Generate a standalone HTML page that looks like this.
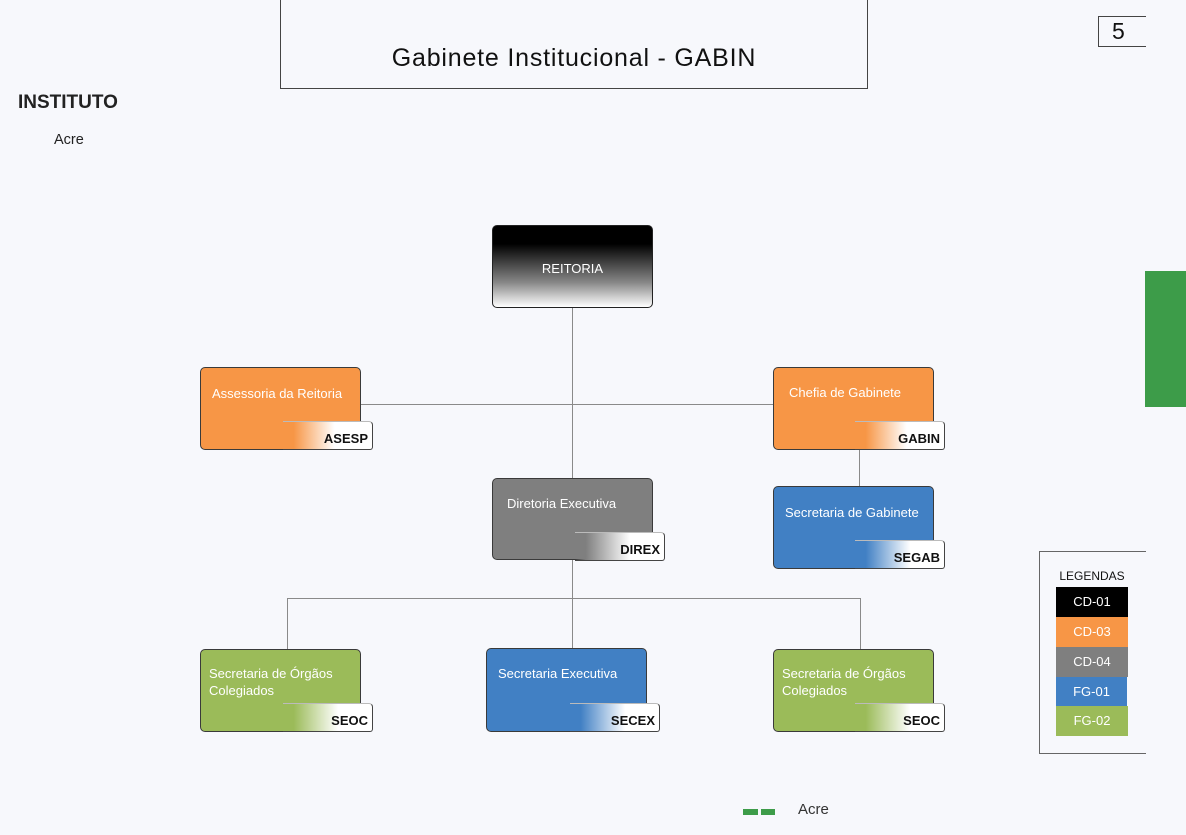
<!DOCTYPE html>
<html><head><meta charset="utf-8"><style>
*{margin:0;padding:0;box-sizing:border-box}
body{width:1186px;height:835px;background:#f7f8fc;position:relative;overflow:hidden;font-family:"Liberation Sans",sans-serif}
.a{position:absolute}
.node{position:absolute;width:161px;height:83px;border:1px solid #3a3a3a;border-radius:5px;color:#fff;font-size:13px;line-height:17px}
.node .t{position:absolute;left:11px;top:17px;white-space:nowrap}
.tag{position:absolute;width:90px;height:29px;border-top:1px solid #bbb;border-right:1px solid #444;border-bottom:1px solid #444;border-radius:0 4px 3px 0;font-size:13px;font-weight:bold;color:#111;text-align:right;padding-right:4px;line-height:34px}
.h{position:absolute;height:1px;background:#8a8a8a}
.v{position:absolute;width:1px;background:#8a8a8a}
.lg{position:absolute;left:1056px;width:72px;height:30px;color:#fff;font-size:13px;text-align:center;line-height:30px}
</style></head><body>
<!-- title box -->
<div class="a" style="left:280px;top:-2px;width:588px;height:91px;border:1px solid #444;border-top:none"></div>
<div class="a" style="left:280px;top:44px;width:588px;text-align:center;font-size:25px;color:#111;letter-spacing:0.8px">Gabinete Institucional - GABIN</div>
<!-- page number -->
<div class="a" style="left:1098px;top:16px;width:48px;height:31px;border:1px solid #444;border-right:none"></div>
<div class="a" style="left:1112px;top:18px;font-size:23px;color:#111">5</div>
<div class="a" style="left:18px;top:92px;font-size:19px;font-weight:bold;color:#222">INSTITUTO</div>
<div class="a" style="left:54px;top:132px;font-size:14.5px;color:#222">Acre</div>
<!-- green side -->
<div class="a" style="left:1145px;top:271px;width:41px;height:136px;background:#3d9c49"></div>

<!-- connectors -->
<div class="v" style="left:572px;top:307px;height:171px"></div>
<div class="h" style="left:360px;top:404px;width:413px"></div>
<div class="v" style="left:859px;top:449px;height:37px"></div>
<div class="v" style="left:572px;top:559px;height:90px"></div>
<div class="h" style="left:287px;top:598px;width:574px"></div>
<div class="v" style="left:287px;top:598px;height:51px"></div>
<div class="v" style="left:860px;top:598px;height:51px"></div>

<!-- REITORIA -->
<div class="node" style="left:492px;top:225px;height:83px;background:linear-gradient(to bottom,#000 0%,#000 22%,#888 70%,#fff 100%);border-color:#222">
<div style="position:absolute;left:0;right:0;top:34px;text-align:center;font-size:13px">REITORIA</div></div>

<!-- Assessoria -->
<div class="node" style="left:200px;top:367px;background:#f79646"><div class="t">Assessoria da Reitoria</div></div>
<div class="tag" style="left:283px;top:421px;background:linear-gradient(to right,rgba(247,150,70,0) 0%,#f79646 12%,#fff 58%,#fff 100%)">ASESP</div>

<!-- Chefia -->
<div class="node" style="left:773px;top:367px;background:#f79646"><div class="t" style="left:15px;top:16px">Chefia de Gabinete</div></div>
<div class="tag" style="left:855px;top:421px;background:linear-gradient(to right,rgba(247,150,70,0) 0%,#f79646 12%,#fff 58%,#fff 100%)">GABIN</div>

<!-- Secretaria de Gabinete -->
<div class="node" style="left:773px;top:486px;background:#4180c4"><div class="t">Secretaria de Gabinete</div></div>
<div class="tag" style="left:855px;top:540px;background:linear-gradient(to right,rgba(65,128,196,0) 0%,#4180c4 12%,#fff 62%,#fff 100%)">SEGAB</div>

<!-- Diretoria -->
<div class="node" style="left:492px;top:478px;height:82px;background:#7f7f7f"><div class="t" style="left:14px;top:16px">Diretoria Executiva</div></div>
<div class="tag" style="left:575px;top:532px;background:linear-gradient(to right,rgba(127,127,127,0) 0%,#7f7f7f 12%,#fff 62%,#fff 100%)">DIREX</div>

<!-- SEOC left -->
<div class="node" style="left:200px;top:649px;background:#9bbb59"><div class="t" style="left:8px;top:15px">Secretaria de Órgãos<br>Colegiados</div></div>
<div class="tag" style="left:283px;top:703px;background:linear-gradient(to right,rgba(155,187,89,0) 0%,#9bbb59 12%,#fff 62%,#fff 100%)">SEOC</div>

<!-- SECEX -->
<div class="node" style="left:486px;top:648px;height:84px;background:#4180c4"><div class="t" style="top:16px">Secretaria Executiva</div></div>
<div class="tag" style="left:570px;top:703px;background:linear-gradient(to right,rgba(65,128,196,0) 0%,#4180c4 12%,#fff 62%,#fff 100%)">SECEX</div>

<!-- SEOC right -->
<div class="node" style="left:773px;top:649px;background:#9bbb59"><div class="t" style="left:8px;top:15px">Secretaria de Órgãos<br>Colegiados</div></div>
<div class="tag" style="left:855px;top:703px;background:linear-gradient(to right,rgba(155,187,89,0) 0%,#9bbb59 12%,#fff 62%,#fff 100%)">SEOC</div>

<!-- Legend -->
<div class="a" style="left:1039px;top:551px;width:107px;height:203px;border:1px solid #666;border-right:none"></div>
<div class="a" style="left:1052px;top:569px;width:80px;text-align:center;font-size:12px;color:#111">LEGENDAS</div>
<div class="lg" style="top:587px;background:#000">CD-01</div>
<div class="lg" style="top:617px;background:#f79646">CD-03</div>
<div class="lg" style="top:647px;background:#7f7f7f">CD-04</div>
<div class="lg" style="top:677px;width:71px;background:#4180c4">FG-01</div>
<div class="lg" style="top:706px;background:#9bbb59">FG-02</div>

<!-- bottom -->
<div class="a" style="left:743px;top:809px;width:15px;height:6px;background:#3d9c49"></div>
<div class="a" style="left:761px;top:809px;width:14px;height:6px;background:#3d9c49"></div>
<div class="a" style="left:798px;top:803px;width:40px;height:13px;overflow:hidden"><div style="position:absolute;top:-2px;left:0;font-size:15px;color:#333">Acre</div></div>
</body></html>
